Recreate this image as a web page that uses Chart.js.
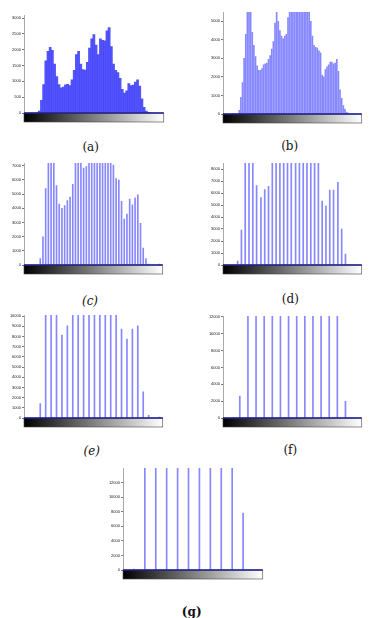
<!DOCTYPE html>
<html>
<head>
<meta charset="utf-8">
<script src="https://cdn.jsdelivr.net/npm/chart.js@4.4.0/dist/chart.umd.min.js"></script>
<style>
body{margin:0;background:#fff;width:374px;height:618px;position:relative;overflow:hidden}
canvas{position:absolute}
.cap{position:absolute;width:60px;text-align:center;font-size:12px;font-family:"DejaVu Serif","Liberation Serif",serif;color:#111;line-height:14px}
</style>
</head>
<body>
<script>
// gray levels (x) and pixel counts (y) for each histogram
var grayTicks = [0, 50, 100, 150, 200, 250];

var levelsA = [24,28,32,36,40,44,48,52,56,60,64,68,72,76,80,84,88,92,96,100,104,108,112,116,120,124,128,132,136,140,144,148,152,156,160,164,168,172,176,180,184,188,192,196,200,204,208,212,216,220,224,228,232];
var countsA = [0,60,400,900,1650,1950,2080,1980,1550,1150,900,800,820,890,910,870,1050,1350,1850,1950,1550,1370,1360,1600,2050,2350,2480,2150,1850,2350,2300,2280,2600,2700,2100,1550,1350,1280,1100,750,630,700,930,870,880,980,1050,850,450,180,60,20,0];
var yTicksA = [0,500,1000,1500,2000,2500,3000];

var levelsB = [30,33,36,39,42,45,48,51,54,57,60,63,66,69,72,75,78,81,84,87,90,93,96,99,102,105,108,111,114,117,120,123,126,129,132,135,138,141,144,147,150,153,156,159,162,165,168,171,174,177,180,183,186,189,192,195,198,201,204,207,210,213,216,219,222,225,228,231];
var countsB = [200,900,1700,3000,4300,5700,5800,5700,4400,3700,3100,2600,2350,2350,2450,2650,2700,2750,2950,3150,3500,3900,4900,5700,5000,4500,4200,4050,4200,4300,5200,6000,7000,7200,6600,5800,6500,7200,7000,6900,7500,8000,7800,6000,5000,4200,3700,3600,3550,3400,3300,2100,2000,2400,2550,2650,2800,2800,2700,2750,2950,2300,1300,850,450,270,100,50];
var yTicksB = [0,1000,2000,3000,4000,5000];

var levelsC = [30,35,40,45,50,55,60,65,70,75,80,85,90,95,100,105,110,115,120,125,130,135,140,145,150,155,160,165,170,175,180,185,190,195,200,205,210,215,220,225,230,250];
var countsC = [450,1980,5400,9000,9500,8500,5600,4300,4000,4200,4550,4800,5700,7800,9500,8500,6850,6950,8500,11500,12000,10000,11500,11500,11500,13000,11000,7050,6100,6000,4500,3250,3600,4650,4250,4750,4950,2950,1200,450,70,70];
var yTicksC = [0,1000,2000,3000,4000,5000,6000,7000];

var levelsD = [27,34,41,48,55,62,70,77,84,91,98,105,112,119,126,134,141,148,155,162,169,176,183,190,197,204,212,219,226,233];
var countsD = [330,2920,9000,9500,9000,6610,5610,6280,6560,9000,10000,9500,9800,12000,12500,11000,12000,13000,14000,12000,9000,8600,5330,4920,6250,6250,6890,3000,920,50];
var yTicksD = [0,1000,2000,3000,4000,5000,6000,7000,8000];

var levelsE = [30,40,50,60,70,80,90,100,110,120,130,140,150,160,170,180,190,200,210,220,230,250];
var countsE = [1410,12000,12500,12000,8130,9050,12500,13000,13000,14000,15000,14000,16000,15000,12000,8720,7740,8720,9050,2560,260,100];
var yTicksE = [0,1000,2000,3000,4000,5000,6000,7000,8000,9000,10000];

var levelsF = [31,46,61,76,91,106,121,136,151,166,181,196,211,226];
var countsF = [2610,18000,17000,17000,19000,21000,24000,25000,26000,21000,13000,15000,17000,1980];
var yTicksF = [0,2000,4000,6000,8000,10000,12000];

var levelsG = [20,40,60,80,100,120,140,160,180,200,220];
var countsG = [140,33000,17000,19000,28000,42000,47000,51000,35000,24000,7800];
var yTicksG = [0,2000,4000,6000,8000,10000,12000];

var YW = 24, XH = 18, PT = 4, PR = 8;

// black-to-white strip under the x axis, like the matlab imhist colorbar
var colorbar = {
    id: 'colorbar',
    afterDatasetsDraw: function(chart){
        var ctx = chart.ctx, a = chart.chartArea, x = chart.scales.x;
        var x0 = x.getPixelForValue(0), x1 = x.getPixelForValue(256);
        var g = ctx.createLinearGradient(x0, 0, x1, 0);
        g.addColorStop(0, '#000');
        g.addColorStop(1, '#fff');
        ctx.save();
        ctx.fillStyle = g;
        ctx.fillRect(x0, a.bottom, x1 - x0, 9);
        ctx.strokeStyle = '#444';
        ctx.lineWidth = 0.6;
        ctx.strokeRect(x0, a.bottom, x1 - x0, 9);
        ctx.strokeStyle = '#1c1c8c';
        ctx.lineWidth = 1.5;
        ctx.beginPath();
        ctx.moveTo(x0, a.bottom);
        ctx.lineTo(x1, a.bottom);
        ctx.stroke();
        ctx.restore();
    }
};

function plain(v){ return String(v); }

function panel(box, levels, counts, yMax, yTicks, color, thick){
    var c = document.createElement('canvas');
    c.width = Math.round(box.r - box.l) + YW + PR;
    c.height = Math.round(box.b - box.t) + PT + XH;
    c.style.left = Math.round(box.l - YW) + 'px';
    c.style.top = Math.round(box.t - PT) + 'px';
    document.body.appendChild(c);
    var tickFont = {size: 4, family: 'Liberation Sans'};
    new Chart(c, {
        type: 'bar',
        data: {
            datasets: [{
                data: levels.map(function(v, i){ return {x: v, y: counts[i]}; }),
                backgroundColor: color,
                barThickness: thick,
                clip: 0
            }]
        },
        options: {
            responsive: false,
            animation: false,
            devicePixelRatio: 1,
            layout: {padding: {top: PT, right: PR, left: 0, bottom: 0}},
            plugins: {legend: {display: false}, tooltip: {enabled: false}},
            scales: {
                x: {
                    type: 'linear', min: 0, max: 256, offset: false,
                    grid: {display: false, offset: false},
                    border: {display: false},
                    afterBuildTicks: function(s){ s.ticks = grayTicks.map(function(v){ return {value: v}; }); },
                    afterFit: function(s){ s.height = XH; },
                    ticks: {padding: 10, font: tickFont, color: '#222', maxRotation: 0, autoSkip: false, callback: plain}
                },
                y: {
                    min: 0, max: yMax,
                    grid: {drawOnChartArea: false, tickLength: 2, color: '#777'},
                    border: {color: '#aaa', width: 1},
                    afterBuildTicks: function(s){ s.ticks = yTicks.map(function(v){ return {value: v}; }); },
                    afterFit: function(s){ s.width = YW; },
                    ticks: {padding: 1, font: tickFont, color: '#222', autoSkip: false, callback: plain}
                }
            }
        },
        plugins: [colorbar]
    });
}

var light = 'rgb(135,135,255)';
panel({l: 24, t: 15, r: 165.6, b: 113}, levelsA, countsA, 3100, yTicksA, 'rgba(60,60,250,0.88)', 2.1);
panel({l: 223, t: 11.8, r: 363.6, b: 113.3}, levelsB, countsB, 5500, yTicksB, light, 1);
panel({l: 24, t: 163, r: 165.3, b: 264.7}, levelsC, countsC, 7200, yTicksC, light, 1);
panel({l: 223, t: 163, r: 363.6, b: 265}, levelsD, countsD, 8500, yTicksD, light, 1);
panel({l: 24, t: 315, r: 165.3, b: 417.7}, levelsE, countsE, 10100, yTicksE, light, 1);
panel({l: 223, t: 315.8, r: 363.6, b: 417.7}, levelsF, countsF, 12100, yTicksF, light, 1);
panel({l: 122.7, t: 467.5, r: 265, b: 569}, levelsG, countsG, 14000, yTicksG, light, 1);

// sub-figure captions
var captions = [
    {text: '(a)', x: 90.7, y: 147, style: ''},
    {text: '(b)', x: 289.7, y: 146, style: ''},
    {text: '(c)', x: 90, y: 301, style: 'italic'},
    {text: '(d)', x: 290.3, y: 299, style: ''},
    {text: '(e)', x: 91.7, y: 451, style: 'italic'},
    {text: '(f)', x: 290.3, y: 450, style: ''},
    {text: '(g)', x: 191.7, y: 611.7, style: 'bold'}
];
captions.forEach(function(c){
    var d = document.createElement('div');
    d.className = 'cap';
    d.textContent = c.text;
    d.style.left = (c.x - 30) + 'px';
    d.style.top = (c.y - 7) + 'px';
    if (c.style == 'italic') d.style.fontStyle = 'italic';
    if (c.style == 'bold') d.style.fontWeight = 'bold';
    document.body.appendChild(d);
});
</script>
</body>
</html>
